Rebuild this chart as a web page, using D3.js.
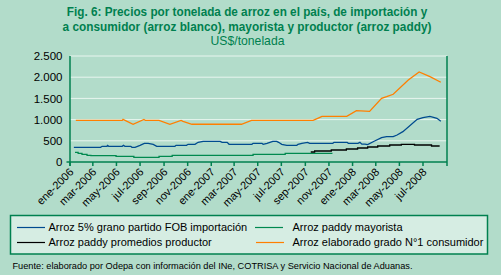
<!DOCTYPE html>
<html>
<head>
<meta charset="utf-8">
<script src="https://cdn.jsdelivr.net/npm/d3@7"></script>
<style>
  body { margin: 0; background: #b2dcca; }
  svg { display: block; }
</style>
</head>
<body>
<div id="chart"></div>
<script>
// Data (US$/tonelada)
var fob = [
  ["2006-01-11",346],["2006-03-21",346],["2006-03-25",370],["2006-04-06",370],["2006-04-08",393],["2006-04-11",370],
  ["2006-05-16",370],["2006-05-19",393],["2006-05-23",370],["2006-06-07",370],["2006-06-10",346],["2006-06-18",346],
  ["2006-07-01",393],["2006-07-12",440],["2006-07-22",440],["2006-08-04",417],["2006-08-13",370],["2006-09-29",370],
  ["2006-10-02",393],["2006-10-29",393],["2006-11-02",417],["2006-11-20",417],["2006-11-28",464],["2006-12-11",488],
  ["2007-01-24",488],["2007-01-29",464],["2007-02-11",464],["2007-02-16",417],["2007-04-16",417],["2007-04-19",440],
  ["2007-05-12",440],["2007-05-15",417],["2007-05-25",440],["2007-06-09",488],["2007-06-19",488],["2007-06-24",464],
  ["2007-07-02",417],["2007-07-15",393],["2007-08-10",393],["2007-08-13",417],["2007-08-23",440],["2007-09-07",464],
  ["2007-09-12",440],["2007-11-11",440],["2007-11-14",464],["2007-12-18",464],["2007-12-21",440],["2008-01-15",440],
  ["2008-01-20",464],["2008-01-25",420],["2008-02-02",420],["2008-02-09",410],["2008-02-27",495],["2008-03-16",574],
  ["2008-03-29",597],["2008-04-15",597],["2008-04-25",637],["2008-05-10",715],["2008-06-16",1007],["2008-07-01",1045],
  ["2008-07-19",1077],["2008-08-06",1030],["2008-08-16",960]
];
var mayorista = [
  ["2006-01-14",228],["2006-01-22",205],["2006-02-01",182],["2006-02-14",158],["2006-02-24",149],["2006-04-30",134],
  ["2006-06-15",111],["2006-08-19",134],["2006-09-22",158],["2007-04-19",182],["2007-07-11",205],["2007-11-10",205]
];
var productor = [
  ["2007-09-15",236],["2007-09-25",259],["2007-11-07",283],["2007-12-16",307],["2008-01-14",330],["2008-02-09",354],
  ["2008-03-06",377],["2008-04-06",401],["2008-05-06",417],["2008-06-09",401],["2008-07-23",377],["2008-08-13",377]
];
var consumidor = [
  ["2006-01-16",980],["2006-05-16",980],["2006-05-18",1005],["2006-06-13",890],["2006-07-11",1005],["2006-07-15",980],
  ["2006-08-19",980],["2006-09-16",890],["2006-10-15",980],["2006-10-20",960],["2006-11-12",890],["2007-03-20",890],
  ["2007-04-15",980],["2007-09-21",980],["2007-10-03",1030],["2007-10-14",1078],["2007-12-17",1078],["2008-01-11",1210],
  ["2008-02-14",1195],["2008-03-16",1502],["2008-03-29",1540],["2008-04-15",1597],["2008-05-24",1934],["2008-06-21",2125],
  ["2008-07-19",2012],["2008-08-16",1880]
];

var monthNames = ["ene","feb","mar","abr","may","jun","jul","ago","sep","oct","nov","dic"];
var yTicks = [0, 500, 1000, 1500, 2000, 2500];
var titleLines = [
  "Fig. 6: Precios por tonelada de arroz en el país, de importación y",
  "a consumidor (arroz blanco), mayorista y productor (arroz paddy)"
];
var subtitle = "US$/tonelada";
var fuente = "Fuente: elaborado por Odepa con información del INe, COTRISA y  Servicio Nacional de Aduanas.";

var series = [
  {name: "Arroz 5% grano partido FOB importación", data: fob, color: "#004b8f", step: false},
  {name: "Arroz paddy mayorista", data: mayorista, color: "#00894f", step: true},
  {name: "Arroz paddy promedios productor", data: productor, color: "#000000", step: true},
  {name: "Arroz elaborado grado N°1 consumidor", data: consumidor, color: "#ff7f00", step: false}
];

var width = 501, height = 275;
var parse = d3.timeParse("%Y-%m-%d");
var green = "#00804f";

var svg = d3.select("#chart").append("svg")
  .attr("width", width)
  .attr("height", height)
  .style("font-family", "'Liberation Sans', Arial, sans-serif");

svg.append("rect").attr("width", width).attr("height", height).attr("fill", "#b2dcca");

// squeeze a text horizontally to a given width (title font is condensed)
function fitWidth(sel, cx, cy, target) {
  sel.each(function(){
    var w = this.getComputedTextLength();
    d3.select(this).attr("transform", "translate(" + cx + "," + cy + ") scale(" + (target / w) + ",1)");
  });
}

// Title
var titleWidths = [361, 369];
titleLines.forEach(function(t, i){
  svg.append("text")
    .attr("text-anchor", "middle")
    .attr("font-family", "'Liberation Sans Narrow', 'Liberation Sans', sans-serif")
    .attr("font-weight", "bold").attr("font-size", 12.3)
    .attr("fill", green)
    .text(t)
    .call(fitWidth, 247, 16.3 + i*14.4, titleWidths[i]);
});

svg.append("text")
  .attr("text-anchor", "middle").attr("font-size", 12)
  .attr("fill", green)
  .text(subtitle)
  .call(fitWidth, 247.5, 44.7, 74);

// Scales
var x = d3.scaleTime()
  .domain([parse("2006-01-01"), parse("2008-09-01")])
  .range([70, 447]);
var y = d3.scaleLinear()
  .domain([0, 2500])
  .range([162, 56]);

// Gridlines
svg.selectAll(".grid").data(yTicks.slice(1)).enter().append("line")
  .attr("class", "grid")
  .attr("x1", 70).attr("x2", 447)
  .attr("y1", function(d){ return y(d); }).attr("y2", function(d){ return y(d); })
  .attr("stroke", "#e8f5ef").attr("stroke-width", 1);

// Y labels
svg.selectAll(".ylab").data(yTicks).enter().append("text")
  .attr("class", "ylab")
  .attr("x", 62.5).attr("y", function(d){ return y(d); })
  .attr("dy", "0.36em")
  .attr("text-anchor", "end").attr("font-size", 11.5)
  .text(function(d){ return d3.format(",")(d).replace(/,/g, "."); });

// Lines
var lineFn = function(s) {
  return d3.line()
    .x(function(d){ return x(parse(d[0])); })
    .y(function(d){ return y(d[1]); })
    .curve(s.step ? d3.curveStepAfter : d3.curveLinear);
};
svg.selectAll(".serie").data(series).enter().append("path")
  .attr("class", "serie")
  .attr("d", function(s){ return lineFn(s)(s.data); })
  .attr("fill", "none")
  .attr("stroke", function(s){ return s.color; })
  .attr("stroke-width", 1.3);

// Axes
var axisG = svg.append("g").attr("stroke", green).attr("stroke-width", 1.5);
axisG.append("line").attr("x1", 70).attr("x2", 70).attr("y1", 56).attr("y2", 166);
axisG.append("line").attr("x1", 447).attr("x2", 447).attr("y1", 56).attr("y2", 166);
axisG.append("line").attr("x1", 66.5).attr("x2", 447).attr("y1", 162).attr("y2", 162);

var xTicks = d3.timeMonth.every(2).range(parse("2006-01-01"), parse("2008-08-01"));
axisG.selectAll(".xt").data(xTicks).enter().append("line")
  .attr("x1", function(d){ return x(d); }).attr("x2", function(d){ return x(d); })
  .attr("y1", 162).attr("y2", 166);

svg.selectAll(".xlab").data(xTicks).enter().append("text")
  .attr("class", "xlab")
  .attr("transform", function(d){ return "translate(" + (x(d) + 1.5) + ",170) rotate(-45)"; })
  .attr("text-anchor", "end").attr("dy", "0.35em")
  .attr("font-size", 11)
  .text(function(d){ return monthNames[d.getMonth()] + "-" + d.getFullYear(); });

// Legend
svg.append("rect")
  .attr("x", 10.5).attr("y", 215.5).attr("width", 477).attr("height", 38.5)
  .attr("fill", "#d6ede3").attr("stroke", green).attr("stroke-width", 1.5);

var legPos = [[17, 227.5, 48.5], [255, 227.5, 292.5], [17, 242.5, 48.5], [256, 242.5, 292.5]];
var leg = svg.selectAll(".leg").data(series).enter().append("g").attr("class", "leg");
leg.append("line")
  .attr("x1", function(d, i){ return legPos[i][0]; })
  .attr("x2", function(d, i){ return legPos[i][0] + 28; })
  .attr("y1", function(d, i){ return legPos[i][1]; })
  .attr("y2", function(d, i){ return legPos[i][1]; })
  .attr("stroke", function(d){ return d.color; }).attr("stroke-width", 1.2);
leg.append("text")
  .attr("x", function(d, i){ return legPos[i][2]; })
  .attr("y", function(d, i){ return legPos[i][1] + 3.5; })
  .attr("font-size", 11)
  .text(function(d){ return d.name; });

// Source
svg.append("text")
  .attr("x", 12.5).attr("y", 268.5)
  .attr("font-size", 9.5)
  .attr("textLength", 400).attr("lengthAdjust", "spacingAndGlyphs")
  .text(fuente);
</script>
</body>
</html>
